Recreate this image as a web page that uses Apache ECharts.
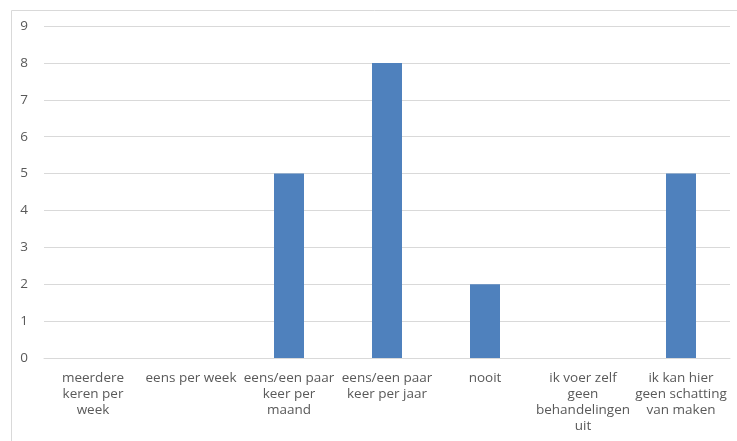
<!DOCTYPE html>
<html><head><meta charset="utf-8">
<script src="https://cdn.jsdelivr.net/npm/echarts@6/dist/echarts.min.js"></script>
<style>html,body{margin:0;padding:0;background:#fff}#c{width:737px;height:441px}</style>
</head><body><div id="c"></div>
<script>
const categories = [
  "meerdere\nkeren per\nweek",
  "eens per week",
  "eens/een paar\nkeer per\nmaand",
  "eens/een paar\nkeer per jaar",
  "nooit",
  "ik voer zelf\ngeen\nbehandelingen\nuit",
  "ik kan hier\ngeen schatting\nvan maken"
];
const values = [0, 0, 5, 8, 2, 0, 5];
const yTicks = [0, 1, 2, 3, 4, 5, 6, 7, 8, 9];

const chart = echarts.init(document.getElementById('c'));
chart.setOption({
  animation: false,
  graphic: [{
    type: 'rect', left: 9, top: 8,
    shape: { width: 800, height: 500 },
    style: { fill: 'none', stroke: '#d9d9d9', lineWidth: 1 }
  }],
  grid: { left: 44, right: 7, top: 26, bottom: 83 },
  xAxis: {
    type: 'category', data: categories,
    axisTick: { show: false },
    axisLine: { lineStyle: { color: '#d9d9d9' } },
    axisLabel: { interval: 0, color: '#595959', fontFamily: 'Open Sans', fontSize: 13.5, lineHeight: 16, margin: 12 }
  },
  yAxis: {
    type: 'value', min: yTicks[0], max: yTicks[yTicks.length - 1], interval: 1,
    axisLine: { show: false }, axisTick: { show: false },
    splitLine: { lineStyle: { color: '#d9d9d9' } },
    axisLabel: { color: '#595959', fontFamily: 'Open Sans', fontSize: 13.5, margin: 16 }
  },
  series: [{
    type: 'bar', data: values, barWidth: 30,
    itemStyle: { color: '#4f81bd' }
  }]
});
</script></body></html>
